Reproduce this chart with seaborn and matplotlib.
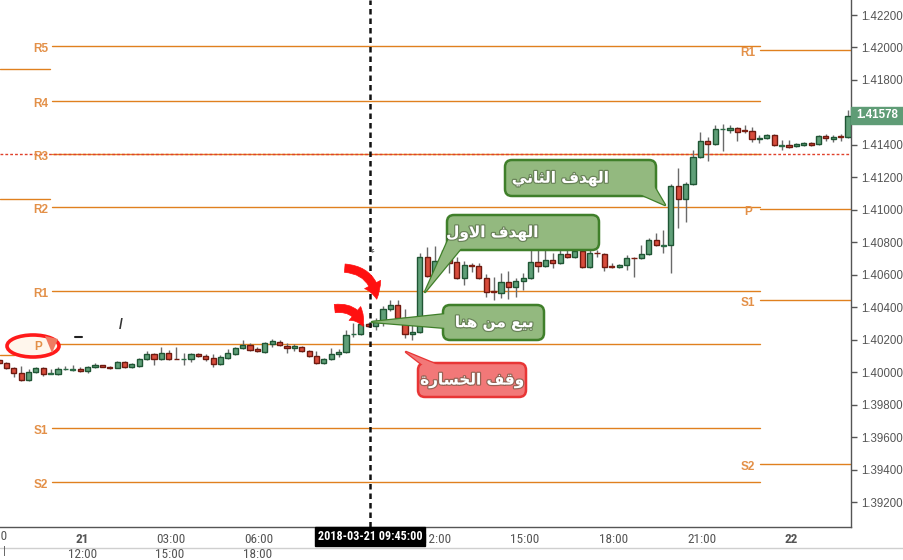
import os
import numpy as np
import pandas as pd
import matplotlib
matplotlib.use("Agg")
import matplotlib.pyplot as plt
import seaborn as sns
from matplotlib import font_manager as fm
from matplotlib.patches import FancyBboxPatch, Polygon, Ellipse, FancyArrowPatch, Rectangle
from matplotlib.transforms import blended_transform_factory, ScaledTranslation
import matplotlib.patheffects as pe

# ---------------- data (15-minute candles) ----------------
opens = [1.40075, 1.40057, 1.40026, 1.39995, 1.39952, 1.40001, 1.40026, 1.39989, 1.39989, 1.40018,
         1.40016, 1.40020, 1.40007, 1.40032, 1.40044, 1.40032, 1.40026, 1.40063, 1.40032, 1.40038,
         1.40081, 1.40112, 1.40081, 1.40118, 1.40084, 1.40078, 1.40081, 1.40112, 1.40100, 1.40087,
         1.40050, 1.40087, 1.40112, 1.40149, 1.40167, 1.40143, 1.40124, 1.40173, 1.40186, 1.40164,
         1.40146, 1.40155, 1.40130, 1.40100, 1.40057, 1.40081, 1.40112, 1.40124, 1.40232, 1.40235,
         1.40297, 1.40284, 1.40309, 1.40389, 1.40414, 1.40333, 1.40235, 1.40248, 1.40709, 1.40592,
         1.40688, 1.40697, 1.40679, 1.40580, 1.40657, 1.40654, 1.40580, 1.40497, 1.40488, 1.40555,
         1.40525, 1.40562, 1.40580, 1.40679, 1.40654, 1.40691, 1.40672, 1.40728, 1.40709, 1.40746,
         1.40648, 1.40737, 1.40728, 1.40651, 1.40648, 1.40660, 1.40706, 1.40703, 1.40728, 1.40814,
         1.40780, 1.40783, 1.41147, 1.41067, 1.41159, 1.41325, 1.41424, 1.41406, 1.41495, 1.41492,
         1.41504, 1.41489, 1.41486, 1.41436, 1.41442, 1.41461, 1.41396, 1.41399, 1.41393, 1.41402,
         1.41412, 1.41406, 1.41455, 1.41439, 1.41452, 1.41449]
highs = [1.40081, 1.40063, 1.40032, 1.40038, 1.40020, 1.40032, 1.40032, 1.40020, 1.40032, 1.40038,
         1.40044, 1.40032, 1.40038, 1.40057, 1.40044, 1.40038, 1.40069, 1.40069, 1.40057, 1.40087,
         1.40130, 1.40118, 1.40155, 1.40137, 1.40155, 1.40118, 1.40118, 1.40118, 1.40112, 1.40112,
         1.40106, 1.40143, 1.40155, 1.40198, 1.40180, 1.40155, 1.40186, 1.40204, 1.40198, 1.40180,
         1.40173, 1.40161, 1.40137, 1.40130, 1.40087, 1.40149, 1.40143, 1.40260, 1.40303, 1.40303,
         1.40303, 1.40333, 1.40408, 1.40445, 1.40445, 1.40389, 1.40297, 1.40734, 1.40771, 1.40777,
         1.40752, 1.40752, 1.40709, 1.40685, 1.40672, 1.40672, 1.40605, 1.40586, 1.40611, 1.40623,
         1.40580, 1.40611, 1.40752, 1.40752, 1.40752, 1.40734, 1.40752, 1.40752, 1.40802, 1.40771,
         1.40752, 1.40752, 1.40734, 1.40672, 1.40666, 1.40722, 1.40709, 1.40783, 1.40826, 1.40857,
         1.40876, 1.41159, 1.41258, 1.41171, 1.41368, 1.41479, 1.41449, 1.41522, 1.41529, 1.41522,
         1.41510, 1.41522, 1.41510, 1.41461, 1.41467, 1.41467, 1.41430, 1.41430, 1.41412, 1.41418,
         1.41418, 1.41461, 1.41467, 1.41461, 1.41467, 1.41615]
lows = [1.40050, 1.40020, 1.39970, 1.39946, 1.39946, 1.39995, 1.39976, 1.39986, 1.39983, 1.40013,
        1.40007, 1.40001, 1.39995, 1.40026, 1.40032, 1.40020, 1.40026, 1.40026, 1.40026, 1.40032,
        1.40075, 1.40044, 1.40075, 1.40075, 1.40078, 1.40044, 1.40063, 1.40094, 1.40069, 1.40032,
        1.40044, 1.40081, 1.40106, 1.40143, 1.40130, 1.40124, 1.40118, 1.40155, 1.40161, 1.40118,
        1.40130, 1.40124, 1.40094, 1.40050, 1.40050, 1.40075, 1.40094, 1.40118, 1.40217, 1.40229,
        1.40278, 1.40260, 1.40284, 1.40377, 1.40327, 1.40210, 1.40198, 1.40241, 1.40586, 1.40586,
        1.40654, 1.40611, 1.40574, 1.40537, 1.40617, 1.40574, 1.40463, 1.40445, 1.40457, 1.40451,
        1.40463, 1.40506, 1.40574, 1.40617, 1.40648, 1.40642, 1.40666, 1.40703, 1.40703, 1.40642,
        1.40642, 1.40709, 1.40623, 1.40642, 1.40642, 1.40629, 1.40586, 1.40697, 1.40722, 1.40777,
        1.40734, 1.40611, 1.40888, 1.40925, 1.41153, 1.41319, 1.41301, 1.41399, 1.41362, 1.41473,
        1.41424, 1.41473, 1.41418, 1.41412, 1.41436, 1.41393, 1.41368, 1.41381, 1.41387, 1.41393,
        1.41393, 1.41399, 1.41424, 1.41418, 1.41424, 1.41442]
closes = [1.40057, 1.40026, 1.39995, 1.39952, 1.40001, 1.40026, 1.39989, 1.39992, 1.40020, 1.40020,
          1.40020, 1.40007, 1.40032, 1.40044, 1.40032, 1.40026, 1.40063, 1.40032, 1.40050, 1.40081,
          1.40112, 1.40081, 1.40118, 1.40081, 1.40078, 1.40081, 1.40112, 1.40100, 1.40081, 1.40050,
          1.40094, 1.40118, 1.40149, 1.40167, 1.40137, 1.40130, 1.40180, 1.40192, 1.40167, 1.40146,
          1.40161, 1.40130, 1.40100, 1.40057, 1.40081, 1.40112, 1.40124, 1.40229, 1.40235, 1.40297,
          1.40284, 1.40315, 1.40389, 1.40414, 1.40333, 1.40235, 1.40248, 1.40709, 1.40592, 1.40685,
          1.40691, 1.40672, 1.40580, 1.40660, 1.40654, 1.40580, 1.40494, 1.40494, 1.40555, 1.40525,
          1.40562, 1.40580, 1.40679, 1.40654, 1.40691, 1.40672, 1.40728, 1.40709, 1.40746, 1.40648,
          1.40734, 1.40734, 1.40648, 1.40648, 1.40660, 1.40703, 1.40703, 1.40728, 1.40814, 1.40783,
          1.40783, 1.41147, 1.41067, 1.41159, 1.41325, 1.41424, 1.41406, 1.41498, 1.41498, 1.41504,
          1.41479, 1.41486, 1.41436, 1.41442, 1.41461, 1.41399, 1.41399, 1.41387, 1.41406, 1.41412,
          1.41399, 1.41455, 1.41442, 1.41449, 1.41449, 1.41578]
first_candle_time = "2018-03-20 21:15"

pivot_left_names = ["R5", "R4", "R3", "R2", "R1", "P", "S1", "S2"]
pivot_left_values = [1.42009, 1.41670, 1.41344, 1.41017, 1.40500, 1.40173, 1.39656, 1.39324]
pivot_right_names = ["R1", "P", "S1", "S2"]
pivot_right_values = [1.41984, 1.41005, 1.40444, 1.39433]
stub_values = [1.41867, 1.41067, 1.40106]
r3_dotted_value = 1.41344
last_price_label = "1.41578"

ytick_values = [1.39200, 1.39400, 1.39600, 1.39800, 1.40000, 1.40200, 1.40400,
                1.40600, 1.40800, 1.41000, 1.41200, 1.41400, 1.41600, 1.41800,
                1.42000, 1.42200]
ytick_labels = ["1.39200", "1.39400", "1.39600", "1.39800", "1.40000", "1.40200", "1.40400",
                "1.40600", "1.40800", "1.41000", "1.41200", "1.41400", "", "1.41800",
                "1.42000", "1.42200"]
xtick_times = ["2018-03-21 00:00", "2018-03-21 03:00", "2018-03-21 06:00", "2018-03-21 12:00",
               "2018-03-21 15:00", "2018-03-21 18:00", "2018-03-21 21:00", "2018-03-22 00:00"]
xtick_labels = ["21", "03:00", "06:00", "12:00", "15:00", "18:00", "21:00", "22"]
cut_tick_time, cut_tick_label = "2018-03-20 21:00", "21:00"
cursor_time = "2018-03-21 09:45"
cursor_label = "2018-03-21 09:45:00"
second_row_labels = ["12:00", "15:00", "18:00"]

txt_target2 = "الهدف الثاني"
txt_target1 = "الهدف الاول"
txt_sell = "بيع من هنا"
txt_stop = "وقف الخسارة"

# ---------------- styling ----------------
sns.set_style("white")
plt.rcParams["font.family"] = ["Liberation Sans", "DejaVu Sans"]


def find_condensed():
    prefs = ["Liberation Sans Narrow", "Roboto Condensed", "DejaVu Sans Condensed",
             "Open Sans Condensed", "Noto Sans Condensed"]
    entries = [e for e in fm.fontManager.ttflist if e.style == "normal"]

    def w(e):
        return e.weight if isinstance(e.weight, int) else {"normal": 400, "regular": 400,
                                                           "bold": 700}.get(e.weight, 400)
    for p in prefs:
        ents = [e for e in entries if e.name == p]
        reg = [e for e in ents if w(e) == 400]
        bld = [e for e in ents if w(e) >= 600]
        if reg:
            return reg[0].fname, (bld[0].fname if bld else reg[0].fname)
    reg = bld = None
    for e in fm.fontManager.ttflist:
        f = os.path.basename(e.fname).lower()
        if ("condensed" in f or "narrow" in f) and "italic" not in f and "oblique" not in f \
                and "mono" not in f and "serif" not in f.replace("sans", ""):
            if "bold" in f:
                bld = bld or e.fname
            else:
                reg = reg or e.fname
    if reg:
        return reg, (bld or reg)
    return None, None


COND_REG, COND_BOLD = find_condensed()


def nfont(size, bold=False):
    if COND_REG:
        return fm.FontProperties(fname=COND_BOLD if bold else COND_REG, size=size)
    return fm.FontProperties(family="DejaVu Sans", size=size * 0.86,
                             weight="bold" if bold else "normal")


# minimal Arabic shaping (matplotlib has no complex text layout)
FORMS = {
    'ا': ('\uFE8D', '\uFE8E', None, None), 'ب': ('\uFE8F', '\uFE90', '\uFE91', '\uFE92'),
    'ة': ('\uFE93', '\uFE94', None, None), 'ث': ('\uFE99', '\uFE9A', '\uFE9B', '\uFE9C'),
    'خ': ('\uFEA5', '\uFEA6', '\uFEA7', '\uFEA8'), 'د': ('\uFEA9', '\uFEAA', None, None),
    'ر': ('\uFEAD', '\uFEAE', None, None), 'س': ('\uFEB1', '\uFEB2', '\uFEB3', '\uFEB4'),
    'ع': ('\uFEC9', '\uFECA', '\uFECB', '\uFECC'), 'ف': ('\uFED1', '\uFED2', '\uFED3', '\uFED4'),
    'ق': ('\uFED5', '\uFED6', '\uFED7', '\uFED8'), 'ل': ('\uFEDD', '\uFEDE', '\uFEDF', '\uFEE0'),
    'م': ('\uFEE1', '\uFEE2', '\uFEE3', '\uFEE4'), 'ن': ('\uFEE5', '\uFEE6', '\uFEE7', '\uFEE8'),
    'ه': ('\uFEE9', '\uFEEA', '\uFEEB', '\uFEEC'), 'و': ('\uFEED', '\uFEEE', None, None),
    'ي': ('\uFEF1', '\uFEF2', '\uFEF3', '\uFEF4'),
}


def shape_ar(s):
    toks, i = [], 0
    while i < len(s):
        if s[i] == 'ل' and i + 1 < len(s) and s[i + 1] == 'ا':
            toks.append('LA'); i += 2
        else:
            toks.append(s[i]); i += 1
    dual = lambda t: t in FORMS and FORMS[t][2] is not None
    letter = lambda t: t in FORMS or t == 'LA'
    out = []
    for k, t in enumerate(toks):
        prev = toks[k - 1] if k > 0 else None
        nxt = toks[k + 1] if k + 1 < len(toks) else None
        jp = prev is not None and dual(prev)
        if t == 'LA':
            out.append('\uFEFC' if jp else '\uFEFB'); continue
        if t not in FORMS:
            out.append(t); continue
        jn = dual(t) and nxt is not None and letter(nxt)
        iso, fin, ini, med = FORMS[t]
        out.append(med if (jp and jn) else fin if jp else ini if jn else iso)
    return ''.join(reversed(out))


# ---------------- figure ----------------
W, H = 904, 560
fig = plt.figure(figsize=(W / 100, H / 100), dpi=100)
fig.patch.set_facecolor("white")
AX_R, AX_B = 851, 527
ax = fig.add_axes([0, (H - AX_B) / H, AX_R / W, AX_B / H])
ax.set_facecolor("white")

df = pd.DataFrame({"open": opens, "high": highs, "low": lows, "close": closes})
df["time"] = pd.date_range(first_candle_time, periods=len(df), freq="15min")
t0 = df["time"].iloc[0]
step = pd.Timedelta("15min")
df["x"] = np.arange(len(df))

PX = 7.383  # pixels per candle
ax.set_xlim((0 + 1) / PX, (AX_R + 1) / PX)
ax.set_ylim(1.390461, 1.422924)

body = (df["close"] - df["open"]).abs()
is_up = df["close"] >= df["open"]
doji = body < 0.00004
fills, edges = [], []
for u, d in zip(is_up, doji):
    if d:
        c = "#2b6b46" if u else "#7d1f12"
        fills.append(c); edges.append(c)
    elif u:
        fills.append("#5f9f78"); edges.append("#1f5534")
    else:
        fills.append("#d84c3c"); edges.append("#6e1a10")

ax.vlines(df["x"], df["low"], df["high"], color="#6a6a6a", lw=1, zorder=3)
ax.bar(df["x"], np.maximum(body, 0.00002), bottom=np.minimum(df["open"], df["close"]),
       width=0.7, color=fills, edgecolor=edges, linewidth=1.0, zorder=4)

# pivot lines
bt = blended_transform_factory(ax.transAxes, ax.transData)
ORANGE = "#e0801f"
LBL = "#e39048"
for v in pivot_left_values:
    ax.plot([52 / AX_R, 760 / AX_R], [v, v], color=ORANGE, lw=1, transform=bt, zorder=2)
for v in pivot_right_values:
    ax.plot([760 / AX_R, 1.0], [v, v], color=ORANGE, lw=1, transform=bt, zorder=2)
for v in stub_values[:2]:
    ax.plot([0, 50 / AX_R], [v, v], color=ORANGE, lw=1, transform=bt, zorder=2)
ax.plot([0, 14 / AX_R], [stub_values[2], stub_values[2]], color=ORANGE, lw=1, transform=bt, zorder=2)
ax.axhline(r3_dotted_value, color="#e0402a", lw=1, ls=(0, (2, 1.5)), zorder=2)

off = ScaledTranslation(0, -3 / 100, fig.dpi_scale_trans)
for n, v in zip(pivot_left_names, pivot_left_values):
    if n == "P":
        continue
    ax.text(41 / AX_R, v, n, transform=bt + off, ha="center", va="center",
            color=LBL, fontsize=8.5, fontweight="bold", zorder=5)
for n, v in zip(pivot_right_names, pivot_right_values):
    ax.text(748 / AX_R, v, n, transform=bt + off, ha="center", va="center",
            color=LBL, fontsize=8.5, fontweight="bold", zorder=5)

# cursor line
xc = (pd.Timestamp(cursor_time) - t0) / step + 0.25
ax.axvline(xc, color="#111111", lw=1.8, ls=(0, (2.2, 1.6)), zorder=6)

# axes style
for s in ["top", "left"]:
    ax.spines[s].set_visible(False)
for s in ["right", "bottom"]:
    ax.spines[s].set_color("#555555")
    ax.spines[s].set_linewidth(1)
ax.yaxis.tick_right()
ax.set_yticks(ytick_values)
ax.set_yticklabels(ytick_labels)
ax.tick_params(axis="y", direction="out", length=4, width=1, color="#555555",
               labelsize=8.3, labelcolor="#555555", pad=3)
xpos = [(pd.Timestamp(t) - t0) / step + 0.25 for t in xtick_times]
ax.set_xticks(xpos)
ax.set_xticklabels(xtick_labels)
ax.tick_params(axis="x", length=0, labelcolor="#555555", pad=4)
for lab in ax.get_xticklabels():
    lab.set_fontproperties(nfont(9.5, bold=lab.get_text() in ("21", "22")))
xcut = (pd.Timestamp(cut_tick_time) - t0) / step + 0.25
ax.text(xcut, -10 / AX_B, cut_tick_label, transform=blended_transform_factory(ax.transData, ax.transAxes),
        ha="center", va="center", color="#555555", fontproperties=nfont(9.5), clip_on=False)

# ---------------- overlay (annotations in pixel space) ----------------
ov = fig.add_axes([0, 0, 1, 1], zorder=10)
ov.set_xlim(0, W)
ov.set_ylim(H, 0)
ov.axis("off")
ov.patch.set_alpha(0)

ov.plot([0, W], [548, 548], color="#cfcfcf", lw=1)
for lab, x in zip(second_row_labels, [83, 170, 258]):
    ov.text(x, 554, lab, ha="center", va="center", color="#555555", fontproperties=nfont(9.5))
ov.text(4, 551, "|", ha="center", va="center", fontsize=8, color="#555555")

# cursor date box
ov.add_patch(Rectangle((315, 527), 110, 19, fc="black", ec="black"))
ov.text(370, 536.5, cursor_label, ha="center", va="center", color="white",
        fontproperties=nfont(8.7, bold=True))

# last price box
ov.add_patch(Rectangle((851, 107), 53, 17, fc="#5f9c76", ec="#5f9c76"))
ov.text(877.5, 115.5, last_price_label, ha="center", va="center", color="white",
        fontsize=8.3, fontweight="bold")

# red ellipse around left P
ov.add_patch(Ellipse((33, 346), 52, 22, fc="#fff6ec", ec="#ff1a1a", lw=2.6))
ov.add_patch(Polygon([(45, 336), (58, 339), (52, 353)], closed=True, fc="#ee7b62", ec="none"))
ov.text(38, 347, "P", ha="center", va="center", color=LBL, fontsize=8.5, fontweight="bold")

# stray marks
ov.text(121, 325, "/", ha="center", va="center", fontsize=10, fontweight="bold", color="#333333")
ov.plot([75, 82], [337, 337], color="#222222", lw=1.5)
ov.text(372, 252, "ء", ha="center", va="center", fontsize=6, color="#555555")


def callout(x0, y0, w, h, tri, text, tx, fill, edge):
    ov.add_patch(Polygon(tri, closed=True, fc=fill, ec=edge, lw=1.8, joinstyle="round", zorder=20))
    ov.add_patch(FancyBboxPatch((x0, y0), w, h, boxstyle="round,pad=0,rounding_size=7",
                                fc=fill, ec=edge, lw=1.8, zorder=21))
    ov.add_patch(Polygon(tri, closed=True, fc=fill, ec="none", zorder=22))
    ov.text(tx, y0 + h / 2 + 1, shape_ar(text), ha="center", va="center", color="white",
            fontsize=11, fontweight="bold", fontfamily=["DejaVu Sans"], zorder=23,
            path_effects=[pe.Stroke(linewidth=1.8, foreground=(0.25, 0.3, 0.2, 0.5)), pe.Normal()])


GF, GE = "#93b97f", "#3f7f2a"
callout(505, 160, 151, 36, [(652, 183), (665, 205), (640, 194)], txt_target2, 560, GF, GE)
callout(447, 215, 152, 35, [(450, 236), (425, 292), (462, 247)], txt_target1, 492, GF, GE)
callout(443, 305, 101, 35, [(447, 314), (372, 322), (447, 328)], txt_sell, 494, GF, GE)
callout(418, 363, 108, 34, [(424, 366), (406, 352), (440, 366)], txt_stop, 472, "#f27878", "#e83535")

# red curved arrows
for (a, b) in [((342, 268), (377, 302)), ((332, 309), (364, 329))]:
    ov.add_patch(FancyArrowPatch(a, b, connectionstyle="arc3,rad=-0.45",
                                 arrowstyle="simple,head_length=11,head_width=13,tail_width=6",
                                 mutation_scale=1, fc="#ff1010", ec="#ff1010", lw=0.5, zorder=15))

fig.savefig("out.png", dpi=100)
